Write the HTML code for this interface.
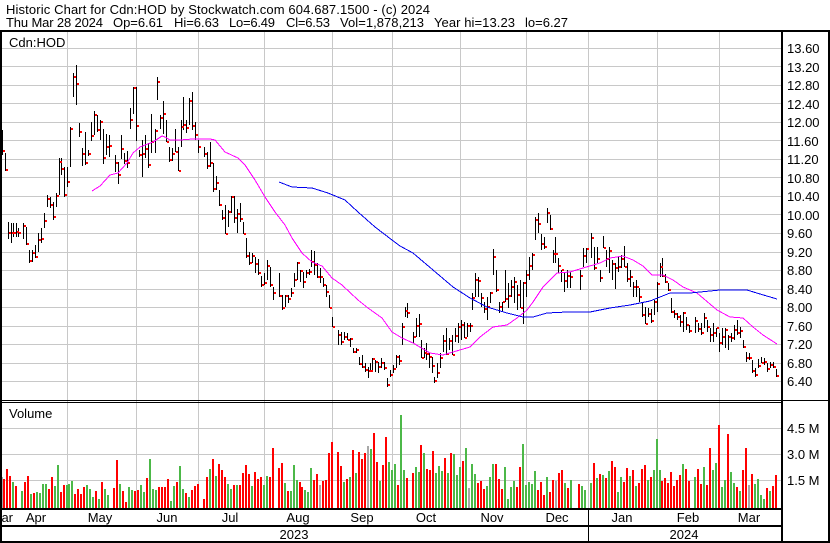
<!DOCTYPE html>
<html><head><meta charset="utf-8"><style>
html,body{margin:0;padding:0;background:#fff;}
svg{display:block;font-family:"Liberation Sans",Arial,sans-serif;}
</style></head><body>
<svg width="830" height="543" viewBox="0 0 830 543" xmlns="http://www.w3.org/2000/svg">
<rect width="830" height="543" fill="#fff"/>
<g font-size="13" fill="#000">
<text x="6" y="14" textLength="424">Historic Chart for Cdn:HOD by Stockwatch.com 604.687.1500 - (c) 2024</text>
<text x="6" y="27" textLength="97">Thu Mar 28 2024</text>
<text x="113" y="27" textLength="50">Op=6.61</text>
<text x="174" y="27" textLength="45">Hi=6.63</text>
<text x="229" y="27" textLength="46">Lo=6.49</text>
<text x="286" y="27" textLength="44">Cl=6.53</text>
<text x="340" y="27" textLength="84">Vol=1,878,213</text>
<text x="434" y="27" textLength="81">Year hi=13.23</text>
<text x="525" y="27">lo=6.27</text>
</g>
<g shape-rendering="crispEdges">
<path fill="none" stroke="#c8c8c8" stroke-width="1" d="M67.5 32V508M136.5 32V508M198.5 32V508M264.5 32V508M332.5 32V508M392.5 32V508M460.5 32V508M526.5 32V508M588.5 32V508M657.5 32V508M719.5 32V508M2 48.5H781M2 66.5H781M2 85.5H781M2 103.5H781M2 122.5H781M2 140.5H781M2 159.5H781M2 177.5H781M2 196.5H781M2 214.5H781M2 233.5H781M2 252.5H781M2 270.5H781M2 289.5H781M2 307.5H781M2 326.5H781M2 344.5H781M2 363.5H781M2 381.5H781M2 428.5H781M2 454.5H781M2 480.5H781"/>
</g>
<g font-size="13" fill="#000">
<text x="9" y="47">Cdn:HOD</text>
<text x="9" y="418">Volume</text>
</g>
<g shape-rendering="crispEdges">
<path fill="none" stroke="#ff0000" stroke-width="2" d="M4 508V479M7 508V469M10 508V476M16 508V486M25 508V482M28 508V476M34 508V493M49 508V489M52 508V477M61 508V492M64 508V485M75 508V494M78 508V489M81 508V494M84 508V487M96 508V491M102 508V482M114 508V488M117 508V460M123 508V491M126 508V502M135 508V491M138 508V490M147 508V478M159 508V487M162 508V487M165 508V487M168 508V479M177 508V482M186 508V493M192 508V490M195 508V486M198 508V484M204 508V499M207 508V477M213 508V459M219 508V464M222 508V470M225 508V477M234 508V485M240 508V485M243 508V473M246 508V465M249 508V474M255 508V472M258 508V479M261 508V477M270 508V477M273 508V448M279 508V468M282 508V463M288 508V491M300 508V482M302 508V487M314 508V480M317 508V474M323 508V481M326 508V480M329 508V453M332 508V442M338 508V452M341 508V466M347 508V479M353 508V450M359 508V452M362 508V459M365 508V453M374 508V433M377 508V462M383 508V465M386 508V437M398 508V485M407 508V478M413 508V473M421 508V445M427 508V469M430 508V470M433 508V451M445 508V458M451 508V453M463 508V461M478 508V483M481 508V481M484 508V489M496 508V464M499 508V479M502 508V489M517 508V487M520 508V467M538 508V490M541 508V482M544 508V495M550 508V492M553 508V480M559 508V473M562 508V470M568 508V488M579 508V484M594 508V463M600 508V474M606 508V478M612 508V461M615 508V467M624 508V482M627 508V468M633 508V470M639 508V483M642 508V469M645 508V465M651 508V477M662 508V481M665 508V478M668 508V483M671 508V472M674 508V486M677 508V480M680 508V475M686 508V469M689 508V481M698 508V469M701 508V484M707 508V485M710 508V448M719 508V425M728 508V434M737 508V487M743 508V470M746 508V448M752 508V474M767 508V488M773 508V486M776 508V475"/>
<path fill="none" stroke="#4cb848" stroke-width="2" d="M13 508V482M22 508V491M31 508V494M37 508V492M40 508V493M43 508V484M46 508V484M55 508V486M58 508V465M67 508V485M69 508V484M72 508V481M87 508V485M90 508V489M93 508V497M99 508V499M105 508V489M108 508V495M120 508V484M129 508V487M132 508V490M141 508V485M144 508V492M150 508V459M153 508V489M156 508V490M171 508V501M174 508V486M180 508V466M183 508V489M189 508V497M210 508V469M216 508V476M228 508V484M231 508V489M237 508V485M252 508V486M264 508V485M267 508V476M285 508V483M291 508V491M294 508V465M297 508V480M305 508V490M308 508V492M311 508V468M344 508V482M350 508V477M356 508V473M371 508V449M380 508V481M389 508V462M392 508V470M395 508V464M401 508V415M404 508V470M416 508V467M419 508V472M424 508V453M436 508V473M439 508V466M442 508V471M448 508V473M454 508V454M457 508V475M460 508V467M466 508V448M472 508V464M475 508V474M487 508V486M490 508V477M493 508V464M505 508V467M508 508V499M511 508V487M514 508V481M523 508V444M526 508V485M529 508V482M532 508V484M535 508V471M547 508V477M565 508V483M571 508V480M582 508V486M585 508V490M591 508V483M597 508V478M603 508V475M609 508V471M618 508V492M621 508V477M630 508V476M636 508V486M648 508V480M654 508V470M657 508V439M660 508V470M683 508V464M695 508V477M704 508V467M713 508V470M716 508V463M722 508V487M725 508V480M731 508V472M734 508V483M740 508V491M755 508V484M758 508V479M761 508V495M764 508V499M770 508V491"/>
<path fill="none" stroke="#a8a8a8" stroke-width="2" d="M2 508V477M320 508V485M368 508V446M469 508V488M556 508V481M749 508V485"/>
<path fill="none" stroke="#000" stroke-width="1" d="M2.5 130V155M5.5 153V171M8.5 222V239M11.5 223V243M13.5 223V237M16.5 223V237M18.5 228V237M23.5 223V239M26.5 227V245M29.5 250V263M32.5 250V262M35.5 245V258M38.5 233V252M41.5 228V243M44.5 213V228M47.5 195V207M50.5 197V208M53.5 202V220M56.5 193V207M59.5 158V195M61.5 158V175M64.5 167V197M67.5 167V187M70.5 127V167M73.5 73V97M76.5 65V105M79.5 123V137M82.5 148V166M85.5 132V165M88.5 150V156M91.5 122V141M94.5 111V135M97.5 115V132M100.5 120V140M103.5 129V164M106.5 134V155M109.5 135V157M115.5 155V172M118.5 162V184M121.5 135V159M124.5 153V164M127.5 151V168M130.5 108V129M133.5 87V114M136.5 87V141M139.5 150V157M142.5 140V177M145.5 135V158M148.5 143V168M151.5 114V153M155.5 129V153M157.5 77V100M160.5 115V129M163.5 101V134M166.5 120V142M169.5 147V162M172.5 148V161M175.5 129V152M178.5 147V171M181.5 120V147M183.5 97V130M186.5 120V133M189.5 98V125M192.5 92V130M195.5 122V140M198.5 140V153M204.5 147V157M207.5 152V169M210.5 142V167M213.5 163V192M216.5 176V190M219.5 190V206M222.5 210V220M225.5 205V234M228.5 210V227M231.5 196V213M234.5 196V223M237.5 209V233M240.5 203V222M243.5 222V234M246.5 238V258M249.5 252V265M252.5 253V263M255.5 257V273M258.5 259V275M261.5 276V287M264.5 273V285M267.5 260V280M270.5 267V287M273.5 287V300M279.5 273V297M282.5 295V310M285.5 295V307M288.5 295V303M291.5 288V297M294.5 273V287M297.5 262V280M300.5 270V282M303.5 272V288M306.5 270V278M309.5 269V275M311.5 250V267M314.5 251V275M317.5 263V278M320.5 268V283M323.5 278V287M326.5 285V297M329.5 295V308M332.5 317V327M338.5 330V345M341.5 332V345M344.5 332V340M347.5 333V340M350.5 338V347M353.5 348V353M356.5 348V353M359.5 357V365M362.5 355V368M365.5 363V372M368.5 367V378M370.5 363V372M372.5 358V372M375.5 360V372M378.5 362V373M381.5 358V368M384.5 362V370M387.5 378V387M390.5 370V377M393.5 365V373M396.5 355V368M399.5 355V365M402.5 323V345M405.5 307V317M407.5 303V318M413.5 332V343M416.5 318V337M419.5 314V337M421.5 340V358M424.5 348V358M426.5 343V360M429.5 353V368M432.5 357V373M434.5 377V383M437.5 363V378M440.5 353V368M443.5 335V352M446.5 328V355M449.5 338V350M452.5 335V355M455.5 328V342M458.5 323V343M461.5 320V340M464.5 322V338M467.5 323V337M470.5 323V332M472.5 293V310M475.5 273V297M478.5 277V297M481.5 293V307M484.5 302V313M487.5 297V320M490.5 292V303M493.5 249V275M496.5 270V292M499.5 302V313M502.5 302V312M505.5 270V302M508.5 283V308M511.5 280V297M514.5 277V303M517.5 285V310M520.5 280V308M523.5 282V324M526.5 270V297M529.5 257V280M532.5 253V270M535.5 217V240M538.5 213V233M541.5 234V250M544.5 237V249M547.5 208V223M550.5 215V230M553.5 250V263M555.5 237V263M558.5 258V273M561.5 270V282M564.5 273V292M567.5 270V288M570.5 272V288M580.5 270V290M583.5 248V267M586.5 248V263M591.5 233V258M594.5 247V270M597.5 247V263M600.5 270V282M603.5 236V248M606.5 250V267M609.5 247V273M612.5 260V280M615.5 263V289M618.5 257V272M621.5 255V268M624.5 246V267M627.5 263V282M630.5 270V287M633.5 282V297M636.5 280V297M639.5 288V302M642.5 302V317M645.5 307V324M648.5 308V317M651.5 309V323M654.5 300V315M657.5 282V312M660.5 263V277M662.5 258V277M665.5 274V283M668.5 283V291M671.5 298V313M674.5 310V318M677.5 313V320M680.5 315V327M683.5 312V332M686.5 317V330M689.5 325V333M695.5 317V333M698.5 323V332M701.5 323V335M704.5 313V328M707.5 320V332M710.5 328V342M713.5 323V342M716.5 328V337M719.5 333V352M722.5 328V345M725.5 328V348M728.5 335V350M731.5 333V342M734.5 325V340M737.5 320V335M740.5 327V338M743.5 340V348M746.5 352V362M749.5 353V360M752.5 360V373M755.5 368V377M758.5 359V368M761.5 357V363M764.5 358V365M767.5 363V372M770.5 362V368M773.5 362V368M776.5 369V377"/>
<path fill="none" stroke="#ff0000" stroke-width="2" d="M3 151h2M6 170h2M9 233h2M12 233h2M14 233h2M17 232h2M19 233h2M24 226h2M27 244h2M30 261h2M33 253h2M36 257h2M39 240h2M42 239h2M45 221h2M48 199h2M51 205h2M54 217h2M57 196h2M60 162h2M62 169h2M65 195h2M68 182h2M71 129h2M74 77h2M77 84h2M80 132h2M83 154h2M86 163h2M89 154h2M92 136h2M95 115h2M98 130h2M101 122h2M104 158h2M107 147h2M110 146h2M116 163h2M119 175h2M122 149h2M125 161h2M128 163h2M131 120h2M134 88h2M137 126h2M140 155h2M143 154h2M146 149h2M149 165h2M152 142h2M156 131h2M158 82h2M161 118h2M164 114h2M167 142h2M170 160h2M173 154h2M176 152h2M179 171h2M182 127h2M184 125h2M187 128h2M190 101h2M193 126h2M196 135h2M199 147h2M205 154h2M208 166h2M211 163h2M214 189h2M217 183h2M220 205h2M223 218h2M226 234h2M229 212h2M232 197h2M235 218h2M238 214h2M241 219h2M244 234h2M247 256h2M250 263h2M253 256h2M256 264h2M259 273h2M262 285h2M265 283h2M268 266h2M271 285h2M274 293h2M280 296h2M283 308h2M286 296h2M289 299h2M292 293h2M295 280h2M298 263h2M301 271h2M304 282h2M307 273h2M310 272h2M312 262h2M315 265h2M318 277h2M321 277h2M324 285h2M327 292h2M330 308h2M333 327h2M339 335h2M342 342h2M345 337h2M348 340h2M351 339h2M354 352h2M357 350h2M360 364h2M363 367h2M366 370h2M369 371h2M371 371h2M373 359h2M376 362h2M379 367h2M382 363h2M385 368h2M388 385h2M391 375h2M394 369h2M397 357h2M400 361h2M403 327h2M406 311h2M408 313h2M414 337h2M417 326h2M420 324h2M422 358h2M425 353h2M427 354h2M430 357h2M433 366h2M435 381h2M438 373h2M441 358h2M444 341h2M447 354h2M450 341h2M453 355h2M456 336h2M459 327h2M462 325h2M465 338h2M468 326h2M471 326h2M473 298h2M476 280h2M479 281h2M482 298h2M485 309h2M488 307h2M491 293h2M494 257h2M497 290h2M500 307h2M503 302h2M506 299h2M509 296h2M512 287h2M515 282h2M518 295h2M521 308h2M524 283h2M527 275h2M530 266h2M533 255h2M536 220h2M539 224h2M542 244h2M545 247h2M548 213h2M551 229h2M554 254h2M556 254h2M559 266h2M562 270h2M565 281h2M568 276h2M571 277h2M581 276h2M584 256h2M587 249h2M592 238h2M595 268h2M598 259h2M601 278h2M604 248h2M607 259h2M610 251h2M613 264h2M616 268h2M619 267h2M622 259h2M625 267h2M628 279h2M631 277h2M634 287h2M637 287h2M640 297h2M643 315h2M646 324h2M649 314h2M652 321h2M655 302h2M658 284h2M661 267h2M663 276h2M666 282h2M669 290h2M672 312h2M675 314h2M678 317h2M681 322h2M684 313h2M687 325h2M690 331h2M696 321h2M699 329h2M702 333h2M705 318h2M708 327h2M711 335h2M714 333h2M717 328h2M720 343h2M723 337h2M726 330h2M729 337h2M732 338h2M735 330h2M738 333h2M741 331h2M744 347h2M747 358h2M750 358h2M753 371h2M756 375h2M759 366h2M762 363h2M765 362h2M768 369h2M771 365h2M774 367h2M777 376h2"/>
<polyline fill="none" stroke="#ff00ff" stroke-width="1" points="92,191 100,186 110,175 118,173 127,163 133,153 140,147 153,142 162,136 165,137 170,140 180,140 193,139 210,139 215,140 225,152 238,158 245,165 255,180 265,197 275,212 285,225 292,238 302,253 312,262 322,266 332,278 342,285 358,300 368,308 382,318 392,332 402,338 413,343 430,353 443,355 453,352 470,347 480,337 493,327 507,325 517,318 527,310 533,302 543,287 557,273 570,272 583,268 600,263 610,258 623,256 633,260 643,266 652,275 663,275 673,280 683,287 697,293 717,310 730,317 743,318 753,327 763,335 777,344"/>
<polyline fill="none" stroke="#0000ee" stroke-width="1" points="279,182 292,187 312,188 328,193 345,200 358,212 375,227 392,240 400,246 413,253 433,270 453,287 470,298 487,307 507,313 523,317 533,317 547,313 567,312 590,312 610,308 630,305 650,301 670,293 690,293 720,290 747,290 760,294 777,299"/>
<g fill="#000">
<rect x="0" y="30" width="830" height="2"/>
<rect x="0" y="30" width="2" height="513"/>
<rect x="828" y="30" width="2" height="513"/>
<rect x="781" y="30" width="2" height="513"/>
<rect x="0" y="400" width="830" height="1"/>
<rect x="0" y="402" width="781" height="1"/>
<rect x="0" y="508" width="781" height="2"/>
<rect x="0" y="525" width="781" height="2"/>
<rect x="0" y="541" width="830" height="2"/>
<rect x="588" y="510" width="1" height="31"/>
</g>
</g>
<g font-size="13" fill="#000">
<text x="787" y="53">13.60</text>
<text x="787" y="72">13.20</text>
<text x="787" y="90">12.80</text>
<text x="787" y="109">12.40</text>
<text x="787" y="127">12.00</text>
<text x="787" y="146">11.60</text>
<text x="787" y="164">11.20</text>
<text x="787" y="183">10.80</text>
<text x="787" y="201">10.40</text>
<text x="787" y="220">10.00</text>
<text x="787" y="238">9.60</text>
<text x="787" y="257">9.20</text>
<text x="787" y="275">8.80</text>
<text x="787" y="294">8.40</text>
<text x="787" y="312">8.00</text>
<text x="787" y="331">7.60</text>
<text x="787" y="349">7.20</text>
<text x="787" y="368">6.80</text>
<text x="787" y="386">6.40</text>
<text x="787" y="433">4.5 M</text>
<text x="787" y="459">3.0 M</text>
<text x="787" y="485">1.5 M</text>
</g>
<g font-size="13" fill="#000" text-anchor="middle">
<text x="36" y="522">Apr</text>
<text x="100" y="522">May</text>
<text x="167" y="522">Jun</text>
<text x="230" y="522">Jul</text>
<text x="298" y="522">Aug</text>
<text x="362" y="522">Sep</text>
<text x="426" y="522">Oct</text>
<text x="492" y="522">Nov</text>
<text x="557" y="522">Dec</text>
<text x="622" y="522">Jan</text>
<text x="688" y="522">Feb</text>
<text x="749" y="522">Mar</text>
<text x="294" y="539">2023</text>
<text x="684" y="539">2024</text>
<text x="13" y="522" text-anchor="end">Mar</text>
</g>
<rect x="0" y="30" width="2" height="513" fill="#000"/>
</svg>
</body></html>
